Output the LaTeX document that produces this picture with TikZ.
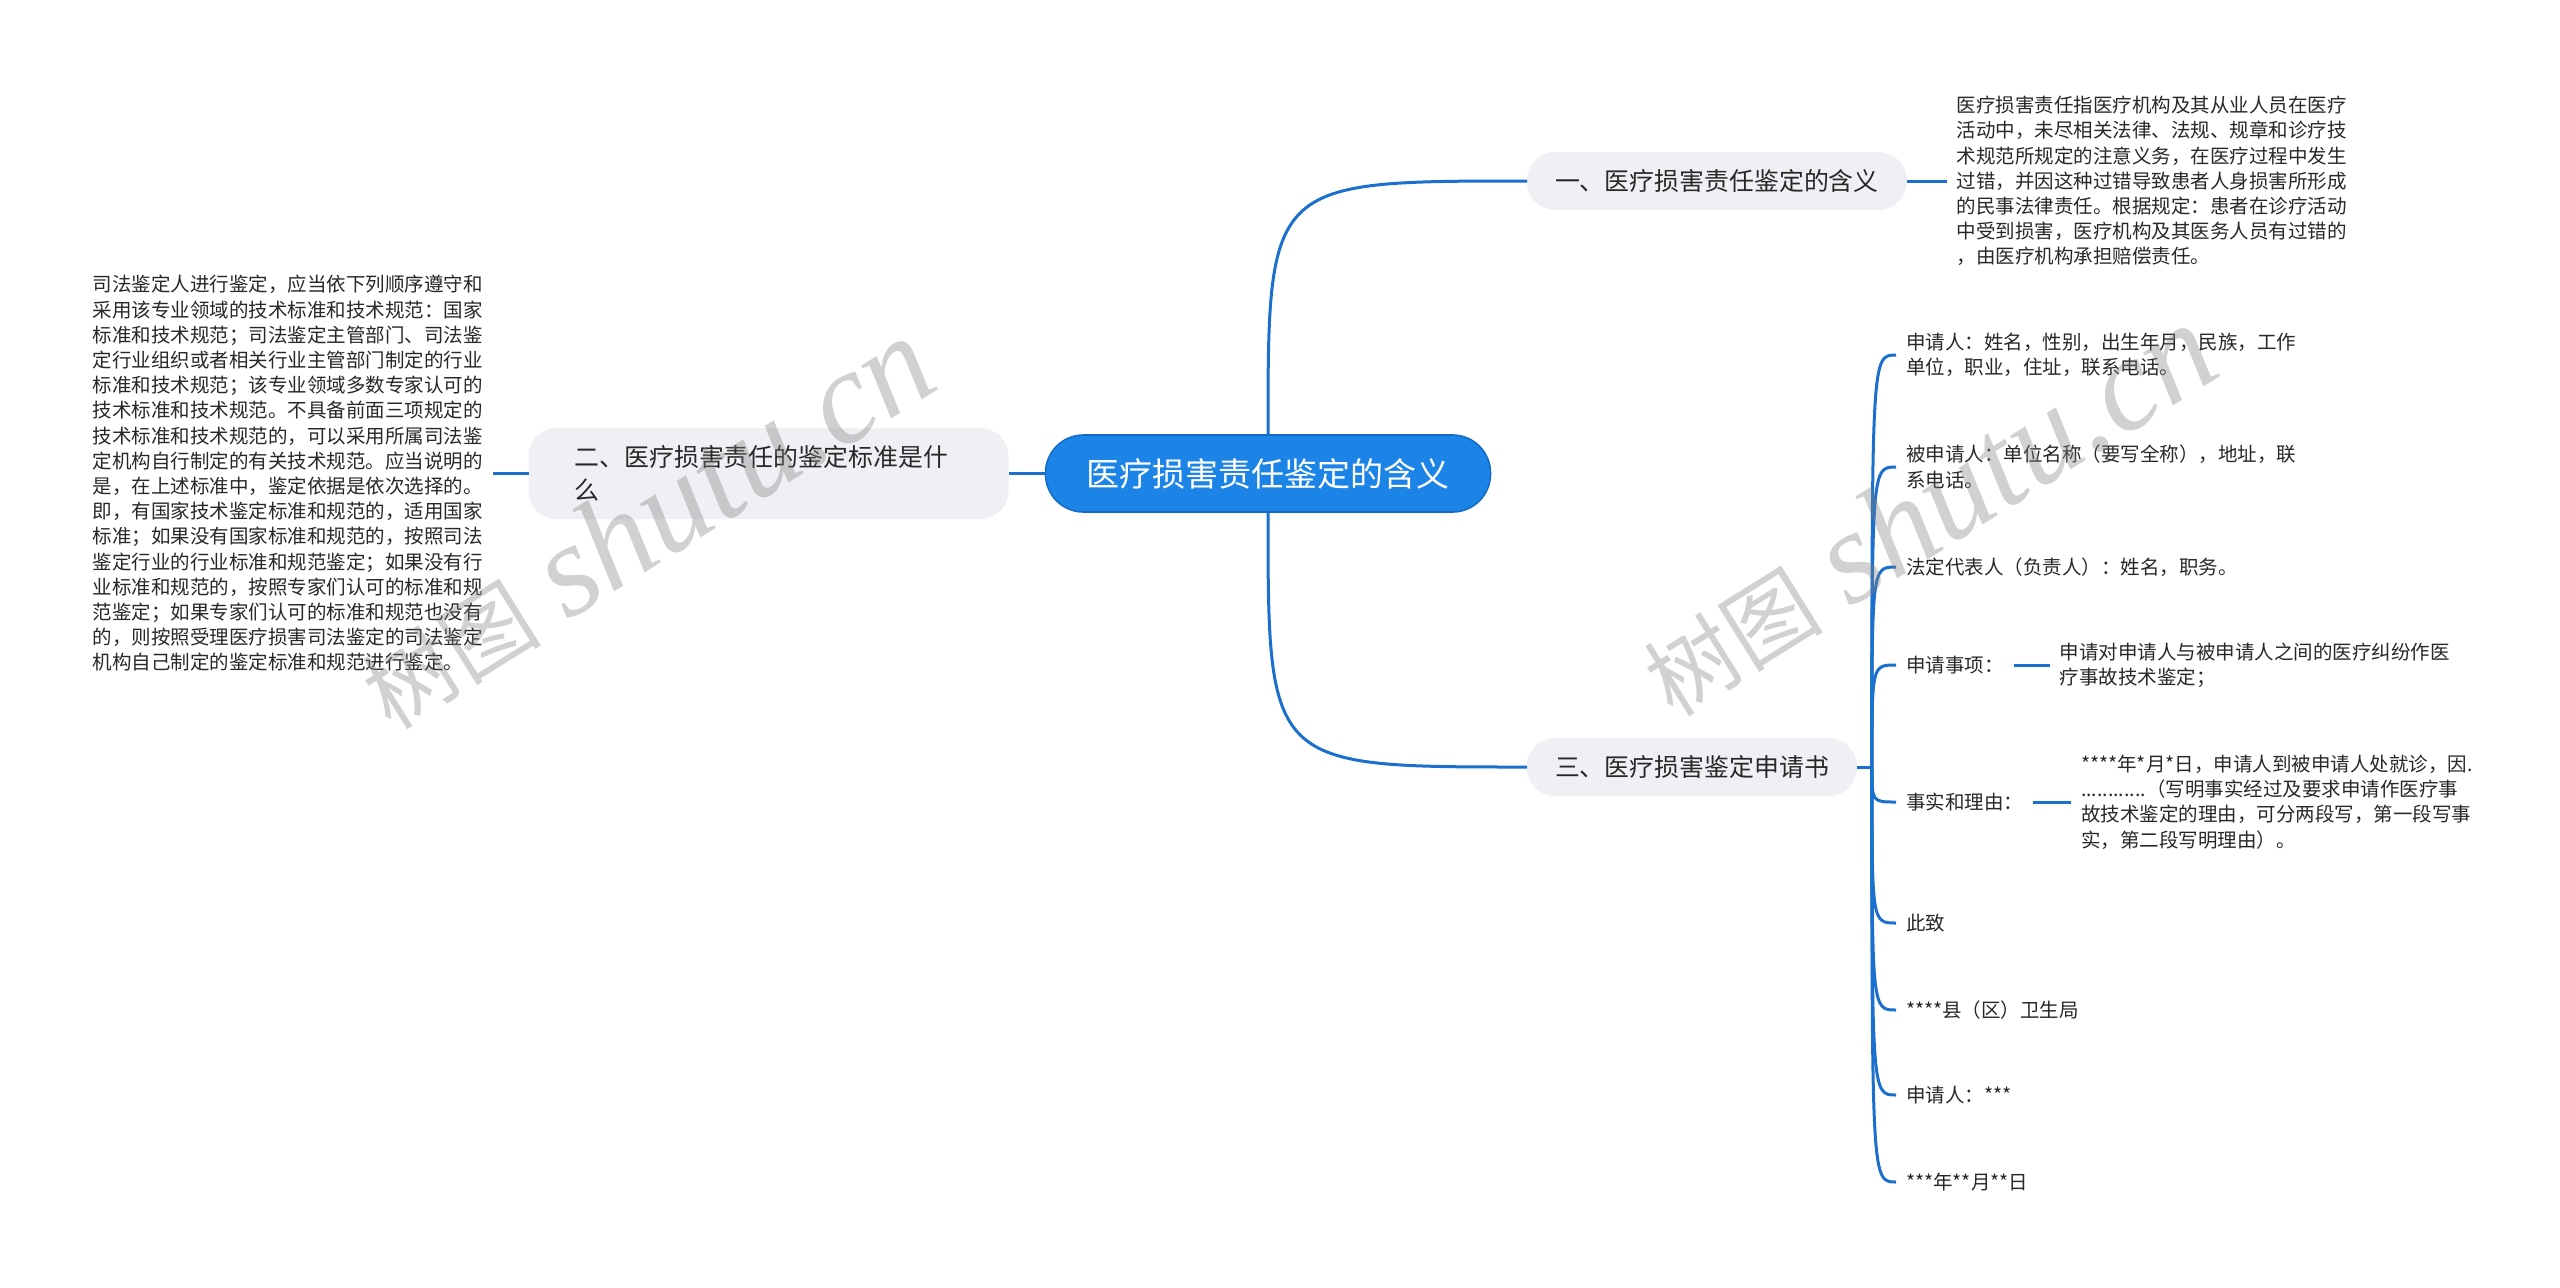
\documentclass[tikz,border=0pt]{standalone}
\usepackage{fontspec}
\setmainfont{Noto Sans CJK SC}
\newfontfamily\wmfont{Liberation Serif}
\usetikzlibrary{positioning}
\definecolor{lineblue}{RGB}{26,112,204}
\definecolor{rootblue}{RGB}{28,132,230}
\definecolor{rootedge}{RGB}{20,108,200}
\definecolor{topicgray}{RGB}{238,240,243}
\definecolor{textdark}{RGB}{40,40,40}
\def\MeaningText{医疗损害责任指医疗机构及其从业人员在医疗\\活动中，未尽相关法律、法规、规章和诊疗技\\术规范所规定的注意义务，在医疗过程中发生\\过错，并因这种过错导致患者人身损害所形成\\的民事法律责任。根据规定：患者在诊疗活动\\中受到损害，医疗机构及其医务人员有过错的\\，由医疗机构承担赔偿责任。}
\def\StandardText{司法鉴定人进行鉴定，应当依下列顺序遵守和\\采用该专业领域的技术标准和技术规范：国家\\标准和技术规范；司法鉴定主管部门、司法鉴\\定行业组织或者相关行业主管部门制定的行业\\标准和技术规范；该专业领域多数专家认可的\\技术标准和技术规范。不具备前面三项规定的\\技术标准和技术规范的，可以采用所属司法鉴\\定机构自行制定的有关技术规范。应当说明的\\是，在上述标准中，鉴定依据是依次选择的。\\即，有国家技术鉴定标准和规范的，适用国家\\标准；如果没有国家标准和规范的，按照司法\\鉴定行业的行业标准和规范鉴定；如果没有行\\业标准和规范的，按照专家们认可的标准和规\\范鉴定；如果专家们认可的标准和规范也没有\\的，则按照受理医疗损害司法鉴定的司法鉴定\\机构自己制定的鉴定标准和规范进行鉴定。}
\def\ReasonText{****年*月*日，申请人到被申请人处就诊，因.\\............（写明事实经过及要求申请作医疗事\\故技术鉴定的理由，可分两段写，第一段写事\\实，第二段写明理由）。}
\def\WaterMark{{\fontsize{45}{45}\selectfont 树图}\hspace{14pt}{\wmfont\itshape\fontsize{66}{66}\selectfont shutu.cn}}

\begin{document}
\begin{tikzpicture}[x=0.5pt,y=-0.5pt,inner sep=5pt,outer sep=0pt,
    root/.style={fill=rootblue,draw=rootedge,line width=0.8pt,text=white,rounded corners=19pt,minimum height=38.5pt,inner xsep=20.5pt,font=\fontsize{16.5}{20}\selectfont},
    topic/.style={fill=topicgray,rounded corners=14pt,minimum height=29pt,inner xsep=14pt,text=textdark,font=\fontsize{12.45}{16.5}\selectfont},
    leaf/.style={text=textdark,align=left,font=\fontsize{9.75}{12.6}\selectfont},
    link/.style={draw=lineblue,line width=1.5pt},
    wm/.style={text=gray,text opacity=0.36,rotate=32,inner sep=0pt}]

    \fill[white] (0,0) rectangle (2560,1287);
    \useasboundingbox (0,0) rectangle (2560,1287);

    \node[root] (root) at (1268,473.5) {医疗损害责任鉴定的含义};

    \node[topic,anchor=west] (b1) at (1527,181) {一、医疗损害责任鉴定的含义};
    \node[leaf,right=20pt of b1] (meaning) {\MeaningText};
    \draw[link] (root.north) .. controls (root.north |- b1.west) .. (b1.west);
    \draw[link] (b1.east) -- (meaning.west);

    \node[topic,left=18.5pt of root,text width=194pt,inner xsep=23pt,minimum height=45.5pt,align=left] (b2) {二、医疗损害责任的鉴定标准是什\\么};
    \node[leaf,left=18pt of b2] (standard) {\StandardText};
    \draw[link] (root.west) -- (b2.east);
    \draw[link] (b2.west) -- (standard.east);

    \node[topic,anchor=west] (b3) at (1527,767) {三、医疗损害鉴定申请书};
    \draw[link] (root.south) .. controls (root.south |- b3.west) .. (b3.west);

    \begin{scope}[every node/.style={leaf,anchor=west}]
        \node (c1) at (1896,355) {申请人：姓名，性别，出生年月，民族，工作\\单位，职业，住址，联系电话。};
        \node (c2) at (1896,467) {被申请人：单位名称（要写全称），地址，联\\系电话。};
        \node (c3) at (1896,567) {法定代表人（负责人）：姓名，职务。};
        \node (c4) at (1896,665) {申请事项：};
        \node (c5) at (1896,802) {事实和理由：};
        \node (c6) at (1896,923) {此致};
        \node (c7) at (1896,1010) {****县（区）卫生局};
        \node (c8) at (1896,1095) {申请人：***};
        \node (c9) at (1896,1182) {***年**月**日};
    \end{scope}

    \coordinate (spine) at ([xshift=7.5pt]b3.east);
    \draw[link] (b3.east) -- (spine);
    \foreach \c in {c1,c2,c3,c4,c5,c6,c7,c8,c9}
        \draw[link] (spine) .. controls (spine |- \c.west) .. (\c.west);

    \node[leaf,right=18pt of c4] (item) {申请对申请人与被申请人之间的医疗纠纷作医\\疗事故技术鉴定；};
    \draw[link] (c4.east) -- (item.west);
    \node[leaf,right=19pt of c5] (reason) {\ReasonText};
    \draw[link] (c5.east) -- (reason.west);

    \node[wm] (wmL) at (645,523) {\WaterMark};
    \node[wm] (wmR) at (1927,510) {\WaterMark};

\end{tikzpicture}
\end{document}
